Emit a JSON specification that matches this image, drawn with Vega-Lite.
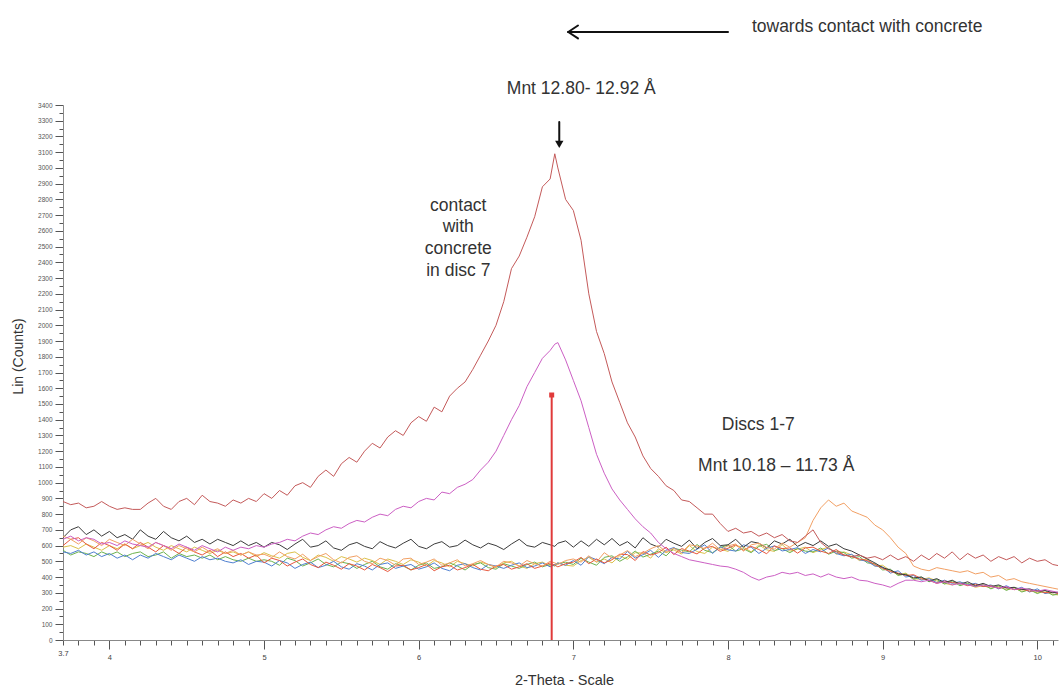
{
  "$schema": "https://vega.github.io/schema/vega-lite/v6.json",
  "autosize": "none",
  "width": 995,
  "height": 535,
  "padding": {"left": 63, "top": 105, "right": 2, "bottom": 49},
  "background": "white",
  "config": {"view": {"stroke": null}, "font": "Liberation Sans"},
  "datasets": {
    "xrd": [
      {"x":3.70,"A":880,"B":640,"C":660,"D":650,"E":560,"F":570,"G":600,"H":590},
      {"x":3.75,"A":860,"B":660,"C":640,"D":700,"E":550,"F":540,"G":640,"H":600},
      {"x":3.80,"A":870,"B":630,"C":610,"D":720,"E":570,"F":560,"G":650,"H":580},
      {"x":3.85,"A":840,"B":650,"C":650,"D":670,"E":540,"F":550,"G":610,"H":610},
      {"x":3.90,"A":850,"B":640,"C":630,"D":700,"E":560,"F":530,"G":580,"H":590},
      {"x":3.95,"A":880,"B":610,"C":600,"D":660,"E":530,"F":560,"G":620,"H":570},
      {"x":4.00,"A":850,"B":620,"C":640,"D":690,"E":550,"F":540,"G":600,"H":600},
      {"x":4.05,"A":830,"B":600,"C":620,"D":650,"E":520,"F":560,"G":570,"H":580},
      {"x":4.10,"A":840,"B":630,"C":600,"D":670,"E":540,"F":530,"G":610,"H":610},
      {"x":4.15,"A":830,"B":610,"C":640,"D":640,"E":510,"F":550,"G":580,"H":580},
      {"x":4.20,"A":830,"B":600,"C":610,"D":700,"E":540,"F":560,"G":620,"H":600},
      {"x":4.25,"A":870,"B":590,"C":580,"D":660,"E":520,"F":530,"G":590,"H":620},
      {"x":4.30,"A":900,"B":620,"C":620,"D":640,"E":550,"F":540,"G":560,"H":590},
      {"x":4.35,"A":850,"B":600,"C":600,"D":690,"E":530,"F":560,"G":600,"H":570},
      {"x":4.40,"A":830,"B":580,"C":570,"D":650,"E":510,"F":520,"G":580,"H":600},
      {"x":4.45,"A":880,"B":610,"C":600,"D":630,"E":540,"F":550,"G":550,"H":580},
      {"x":4.50,"A":900,"B":590,"C":580,"D":660,"E":520,"F":530,"G":590,"H":560},
      {"x":4.55,"A":860,"B":570,"C":560,"D":620,"E":500,"F":540,"G":560,"H":590},
      {"x":4.60,"A":920,"B":600,"C":590,"D":640,"E":530,"F":520,"G":540,"H":570},
      {"x":4.65,"A":880,"B":580,"C":560,"D":610,"E":510,"F":540,"G":570,"H":550},
      {"x":4.70,"A":870,"B":560,"C":580,"D":640,"E":520,"F":510,"G":530,"H":570},
      {"x":4.75,"A":850,"B":590,"C":550,"D":620,"E":500,"F":530,"G":560,"H":550},
      {"x":4.80,"A":890,"B":570,"C":570,"D":600,"E":490,"F":510,"G":530,"H":560},
      {"x":4.85,"A":870,"B":590,"C":540,"D":630,"E":510,"F":500,"G":550,"H":540},
      {"x":4.90,"A":900,"B":580,"C":560,"D":600,"E":480,"F":520,"G":520,"H":560},
      {"x":4.95,"A":880,"B":600,"C":540,"D":620,"E":500,"F":500,"G":540,"H":530},
      {"x":5.00,"A":930,"B":590,"C":545,"D":590,"E":495,"F":510,"G":490,"H":555},
      {"x":5.05,"A":900,"B":610,"C":525,"D":620,"E":470,"F":500,"G":520,"H":535},
      {"x":5.10,"A":950,"B":620,"C":560,"D":605,"E":505,"F":475,"G":505,"H":520},
      {"x":5.15,"A":920,"B":640,"C":530,"D":575,"E":490,"F":520,"G":470,"H":550},
      {"x":5.20,"A":980,"B":630,"C":515,"D":610,"E":455,"F":505,"G":495,"H":560},
      {"x":5.25,"A":1000,"B":660,"C":545,"D":640,"E":480,"F":470,"G":515,"H":525},
      {"x":5.30,"A":970,"B":680,"C":505,"D":590,"E":495,"F":490,"G":480,"H":505},
      {"x":5.35,"A":1040,"B":670,"C":530,"D":600,"E":460,"F":515,"G":460,"H":540},
      {"x":5.40,"A":1080,"B":700,"C":550,"D":630,"E":475,"F":480,"G":495,"H":525},
      {"x":5.45,"A":1040,"B":720,"C":510,"D":585,"E":500,"F":465,"G":475,"H":500},
      {"x":5.50,"A":1120,"B":710,"C":490,"D":570,"E":465,"F":495,"G":450,"H":530},
      {"x":5.55,"A":1160,"B":740,"C":525,"D":605,"E":450,"F":485,"G":485,"H":515},
      {"x":5.60,"A":1130,"B":760,"C":535,"D":620,"E":485,"F":455,"G":470,"H":495},
      {"x":5.65,"A":1200,"B":750,"C":500,"D":595,"E":470,"F":480,"G":445,"H":520},
      {"x":5.70,"A":1250,"B":780,"C":485,"D":580,"E":445,"F":500,"G":480,"H":505},
      {"x":5.75,"A":1220,"B":800,"C":520,"D":625,"E":480,"F":465,"G":460,"H":480},
      {"x":5.80,"A":1290,"B":790,"C":505,"D":600,"E":490,"F":450,"G":435,"H":515},
      {"x":5.85,"A":1330,"B":830,"C":475,"D":585,"E":455,"F":485,"G":470,"H":500},
      {"x":5.90,"A":1300,"B":850,"C":515,"D":615,"E":470,"F":470,"G":475,"H":480},
      {"x":5.95,"A":1380,"B":840,"C":520,"D":640,"E":480,"F":445,"G":445,"H":510},
      {"x":6.00,"A":1420,"B":880,"C":480,"D":595,"E":450,"F":475,"G":460,"H":495},
      {"x":6.05,"A":1390,"B":900,"C":495,"D":580,"E":465,"F":490,"G":480,"H":470},
      {"x":6.10,"A":1480,"B":890,"C":515,"D":610,"E":490,"F":455,"G":440,"H":505},
      {"x":6.15,"A":1450,"B":940,"C":475,"D":625,"E":455,"F":465,"G":465,"H":490},
      {"x":6.20,"A":1550,"B":930,"C":490,"D":590,"E":440,"F":490,"G":475,"H":465},
      {"x":6.25,"A":1600,"B":970,"C":510,"D":600,"E":475,"F":470,"G":445,"H":500},
      {"x":6.30,"A":1640,"B":990,"C":470,"D":635,"E":485,"F":445,"G":460,"H":485},
      {"x":6.35,"A":1720,"B":1020,"C":485,"D":605,"E":460,"F":480,"G":480,"H":470},
      {"x":6.40,"A":1810,"B":1080,"C":505,"D":585,"E":445,"F":490,"G":450,"H":495},
      {"x":6.45,"A":1900,"B":1130,"C":480,"D":615,"E":480,"F":460,"G":440,"H":480},
      {"x":6.50,"A":2000,"B":1200,"C":465,"D":600,"E":470,"F":450,"G":470,"H":460},
      {"x":6.55,"A":2150,"B":1300,"C":500,"D":575,"E":455,"F":485,"G":480,"H":490},
      {"x":6.60,"A":2360,"B":1400,"C":490,"D":610,"E":475,"F":470,"G":450,"H":500},
      {"x":6.65,"A":2440,"B":1490,"C":470,"D":640,"E":490,"F":455,"G":465,"H":470},
      {"x":6.70,"A":2560,"B":1610,"C":505,"D":600,"E":460,"F":480,"G":485,"H":455},
      {"x":6.75,"A":2690,"B":1700,"C":485,"D":590,"E":470,"F":495,"G":455,"H":485},
      {"x":6.80,"A":2880,"B":1790,"C":470,"D":620,"E":490,"F":465,"G":470,"H":495},
      {"x":6.85,"A":2930,"B":1840,"C":500,"D":605,"E":465,"F":480,"G":490,"H":470},
      {"x":6.88,"A":3090,"B":1880,"C":490,"D":595,"E":480,"F":470,"G":475,"H":480},
      {"x":6.90,"A":3000,"B":1890,"C":480,"D":615,"E":490,"F":485,"G":465,"H":490},
      {"x":6.95,"A":2800,"B":1780,"C":505,"D":630,"E":475,"F":495,"G":485,"H":475},
      {"x":7.00,"A":2730,"B":1650,"C":515,"D":590,"E":505,"F":480,"G":495,"H":470},
      {"x":7.05,"A":2540,"B":1520,"C":495,"D":630,"E":475,"F":520,"G":525,"H":505},
      {"x":7.10,"A":2200,"B":1350,"C":535,"D":595,"E":530,"F":495,"G":485,"H":525},
      {"x":7.15,"A":1960,"B":1180,"C":495,"D":640,"E":510,"F":475,"G":515,"H":495},
      {"x":7.20,"A":1820,"B":1060,"C":555,"D":605,"E":485,"F":525,"G":490,"H":515},
      {"x":7.25,"A":1640,"B":960,"C":520,"D":645,"E":525,"F":535,"G":510,"H":490},
      {"x":7.30,"A":1510,"B":890,"C":540,"D":600,"E":515,"F":500,"G":545,"H":535},
      {"x":7.35,"A":1380,"B":830,"C":568,"D":625,"E":563,"F":528,"G":543,"H":513},
      {"x":7.40,"A":1290,"B":770,"C":530,"D":585,"E":520,"F":565,"G":505,"H":555},
      {"x":7.45,"A":1170,"B":720,"C":552,"D":650,"E":542,"F":527,"G":562,"H":552},
      {"x":7.50,"A":1090,"B":680,"C":580,"D":610,"E":570,"F":545,"G":540,"H":520},
      {"x":7.55,"A":1040,"B":620,"C":600,"D":590,"E":525,"F":565,"G":555,"H":580},
      {"x":7.60,"A":980,"B":580,"C":560,"D":640,"E":570,"F":535,"G":590,"H":555},
      {"x":7.65,"A":950,"B":550,"C":583,"D":615,"E":588,"F":583,"G":543,"H":573},
      {"x":7.70,"A":890,"B":530,"C":556,"D":595,"E":556,"F":571,"G":581,"H":546},
      {"x":7.75,"A":880,"B":510,"C":605,"D":635,"E":550,"F":560,"G":565,"H":600},
      {"x":7.80,"A":840,"B":500,"C":597,"D":580,"E":577,"F":607,"G":547,"H":562},
      {"x":7.85,"A":800,"B":490,"C":580,"D":620,"E":605,"F":570,"G":585,"H":550},
      {"x":7.90,"A":800,"B":480,"C":615,"D":645,"E":550,"F":555,"G":595,"H":590},
      {"x":7.95,"A":740,"B":470,"C":573,"D":600,"E":593,"F":588,"G":563,"H":578},
      {"x":8.00,"A":690,"B":465,"C":598,"D":605,"E":573,"F":603,"G":583,"H":563},
      {"x":8.05,"A":710,"B":450,"C":610,"D":640,"E":565,"F":565,"G":605,"H":600},
      {"x":8.10,"A":680,"B":430,"C":565,"D":590,"E":605,"F":580,"G":570,"H":590},
      {"x":8.15,"A":690,"B":400,"C":605,"D":625,"E":590,"F":555,"G":595,"H":560},
      {"x":8.20,"A":660,"B":380,"C":615,"D":615,"E":550,"F":595,"G":575,"H":605},
      {"x":8.25,"A":680,"B":400,"C":588,"D":585,"E":583,"F":608,"G":548,"H":573},
      {"x":8.30,"A":650,"B":410,"C":578,"D":630,"E":598,"F":568,"G":598,"H":563},
      {"x":8.35,"A":670,"B":430,"C":616,"D":610,"E":566,"F":581,"G":581,"H":606},
      {"x":8.40,"A":630,"B":420,"C":590,"D":640,"E":575,"F":555,"G":585,"H":565},
      {"x":8.45,"A":620,"B":430,"C":620,"D":595,"E":587,"F":582,"G":552,"H":577},
      {"x":8.50,"A":660,"B":410,"C":650,"D":620,"E":550,"F":565,"G":585,"H":590},
      {"x":8.55,"A":700,"B":420,"C":760,"D":600,"E":575,"F":560,"G":590,"H":555},
      {"x":8.60,"A":620,"B":400,"C":840,"D":630,"E":560,"F":585,"G":565,"H":575},
      {"x":8.65,"A":580,"B":420,"C":890,"D":595,"E":585,"F":545,"G":550,"H":590},
      {"x":8.70,"A":560,"B":400,"C":850,"D":610,"E":550,"F":565,"G":575,"H":545},
      {"x":8.75,"A":540,"B":390,"C":870,"D":580,"E":535,"F":555,"G":540,"H":560},
      {"x":8.80,"A":530,"B":400,"C":820,"D":565,"E":545,"F":520,"G":530,"H":540},
      {"x":8.85,"A":540,"B":380,"C":800,"D":540,"E":510,"F":530,"G":515,"H":505},
      {"x":8.90,"A":520,"B":375,"C":780,"D":515,"E":500,"F":490,"G":505,"H":515},
      {"x":8.95,"A":530,"B":360,"C":730,"D":490,"E":470,"F":485,"G":480,"H":470},
      {"x":9.00,"A":510,"B":350,"C":700,"D":460,"E":465,"F":445,"G":455,"H":475},
      {"x":9.05,"A":540,"B":335,"C":650,"D":445,"E":425,"F":450,"G":435,"H":440},
      {"x":9.10,"A":510,"B":360,"C":590,"D":420,"E":440,"F":410,"G":425,"H":415},
      {"x":9.15,"A":530,"B":380,"C":550,"D":415,"E":400,"F":420,"G":410,"H":425},
      {"x":9.20,"A":500,"B":380,"C":470,"D":395,"E":410,"F":385,"G":415,"H":390},
      {"x":9.25,"A":540,"B":370,"C":450,"D":400,"E":380,"F":400,"G":390,"H":385},
      {"x":9.30,"A":510,"B":380,"C":440,"D":375,"E":390,"F":370,"G":380,"H":395},
      {"x":9.35,"A":550,"B":360,"C":460,"D":390,"E":365,"F":385,"G":360,"H":375},
      {"x":9.40,"A":520,"B":370,"C":450,"D":365,"E":380,"F":355,"G":375,"H":360},
      {"x":9.45,"A":560,"B":350,"C":440,"D":380,"E":360,"F":375,"G":365,"H":350},
      {"x":9.50,"A":510,"B":360,"C":430,"D":355,"E":370,"F":345,"G":360,"H":365},
      {"x":9.55,"A":550,"B":350,"C":440,"D":370,"E":350,"F":360,"G":345,"H":355},
      {"x":9.60,"A":520,"B":340,"C":420,"D":345,"E":360,"F":340,"G":355,"H":335},
      {"x":9.65,"A":540,"B":350,"C":430,"D":360,"E":340,"F":355,"G":340,"H":345},
      {"x":9.70,"A":500,"B":340,"C":400,"D":340,"E":350,"F":325,"G":345,"H":330},
      {"x":9.75,"A":530,"B":330,"C":410,"D":350,"E":325,"F":345,"G":330,"H":340},
      {"x":9.80,"A":510,"B":340,"C":380,"D":330,"E":345,"F":315,"G":335,"H":320},
      {"x":9.85,"A":530,"B":320,"C":390,"D":335,"E":320,"F":335,"G":320,"H":330},
      {"x":9.90,"A":490,"B":330,"C":370,"D":320,"E":335,"F":305,"G":325,"H":310},
      {"x":9.95,"A":520,"B":320,"C":360,"D":325,"E":305,"F":320,"G":310,"H":320},
      {"x":10.00,"A":500,"B":310,"C":350,"D":310,"E":325,"F":295,"G":315,"H":300},
      {"x":10.05,"A":510,"B":320,"C":340,"D":315,"E":295,"F":315,"G":300,"H":305},
      {"x":10.10,"A":480,"B":310,"C":330,"D":300,"E":305,"F":285,"G":305,"H":290},
      {"x":10.15,"A":470,"B":300,"C":320,"D":305,"E":290,"F":295,"G":290,"H":285}
    ],
    "stick": [{"x": 6.86, "y": 0, "top": 1557}],
    "arrows": [
      {"x": 6.967, "y": 3864, "x2": 8.0, "y2": 3864},
      {"x": 6.967, "y": 3864, "x2": 7.03, "y2": 3905},
      {"x": 6.967, "y": 3864, "x2": 7.03, "y2": 3823},
      {"x": 6.909, "y": 3292, "x2": 6.909, "y2": 3165}
    ],
    "heads": [{"x": 6.909, "y": 3150}],
    "notes": [
      {"x": 8.9, "y": 3896, "label": "towards contact with concrete"},
      {"x": 7.051, "y": 3502, "label": "Mnt 12.80- 12.92 Å"},
      {"x": 6.256, "y": 2761, "label": "contact\nwith\nconcrete\nin disc 7"},
      {"x": 8.196, "y": 1366, "label": "Discs 1-7"},
      {"x": 8.312, "y": 1106, "label": "Mnt 10.18 – 11.73 Å"}
    ]
  },
  "encoding": {
    "x": {
      "field": "x", "type": "quantitative",
      "scale": {"domain": [3.7, 10.134], "nice": false, "zero": false},
      "axis": {
        "title": "2-Theta - Scale",
        "titleFontSize": 14.5, "titleFontWeight": "normal", "titleColor": "#333333",
        "titleX": 501, "titleY": 40, "titleBaseline": "middle",
        "values": [3.7,3.8,3.9,4.0,4.1,4.2,4.3,4.4,4.5,4.6,4.7,4.8,4.9,5.0,5.1,5.2,5.3,5.4,5.5,5.6,5.7,5.8,5.9,6.0,6.1,6.2,6.3,6.4,6.5,6.6,6.7,6.8,6.9,7.0,7.1,7.2,7.3,7.4,7.5,7.6,7.7,7.8,7.9,8.0,8.1,8.2,8.3,8.4,8.5,8.6,8.7,8.8,8.9,9.0,9.1,9.2,9.3,9.4,9.5,9.6,9.7,9.8,9.9,10.0,10.1],
        "labelExpr": "abs(datum.value - round(datum.value)) < 0.001 || abs(datum.value - 3.7) < 0.001 ? format(datum.value, '~g') : ''",
        "labelFontSize": 7.5, "labelColor": "#444444", "labelPadding": 4,
        "labelOverlap": false, "labelFlush": false,
        "tickSize": {"condition": {"test": "abs(datum.value - round(datum.value)) < 0.001", "value": 9}, "value": 5},
        "tickColor": "#555555", "tickWidth": 1,
        "domainColor": "#888888", "grid": false
      }
    },
    "y": {
      "field": "y", "type": "quantitative",
      "scale": {"domain": [0, 3400], "nice": false},
      "axis": {
        "title": "Lin (Counts)",
        "titleFontSize": 14, "titleFontWeight": "normal", "titleColor": "#333333",
        "titleX": -45, "titleY": 251, "titleAngle": 270, "titleBaseline": "middle", "titleAlign": "center",
        "values": [0,50,100,150,200,250,300,350,400,450,500,550,600,650,700,750,800,850,900,950,1000,1050,1100,1150,1200,1250,1300,1350,1400,1450,1500,1550,1600,1650,1700,1750,1800,1850,1900,1950,2000,2050,2100,2150,2200,2250,2300,2350,2400,2450,2500,2550,2600,2650,2700,2750,2800,2850,2900,2950,3000,3050,3100,3150,3200,3250,3300,3350,3400],
        "labelExpr": "datum.value % 100 === 0 ? datum.label : ''",
        "format": "d",
        "labelFontSize": 6.5, "labelColor": "#555555", "labelPadding": 3,
        "labelOverlap": false, "labelFlush": false,
        "tickSize": {"condition": {"test": "datum.value % 100 === 0", "value": 8}, "value": 4},
        "tickColor": "#555555", "tickWidth": 1,
        "domainColor": "#888888", "grid": false
      }
    }
  },
  "layer": [
    {
      "data": {"name": "xrd"},
      "transform": [{"fold": ["H", "F", "E", "G", "D", "C", "B", "A"], "as": ["series", "y"]}],
      "mark": {"type": "line", "strokeWidth": 1, "clip": true},
      "encoding": {
        "color": {
          "field": "series", "type": "nominal", "legend": null,
          "scale": {
            "domain": ["A", "B", "C", "D", "E", "F", "G", "H"],
            "range": ["#c45a5a", "#cc5fc4", "#f2a064", "#3c3c3c", "#4f7fd0", "#6cb24e", "#e8583e", "#dcc04a"]
          }
        }
      }
    },
    {
      "data": {"name": "stick"},
      "mark": {"type": "rule", "color": "#e03a3a", "strokeWidth": 2},
      "encoding": {"y2": {"field": "top"}}
    },
    {
      "data": {"name": "stick"},
      "mark": {"type": "square", "color": "#e03a3a", "filled": true, "size": 25, "opacity": 1},
      "encoding": {"y": {"field": "top", "type": "quantitative"}}
    },
    {
      "data": {"name": "arrows"},
      "mark": {"type": "rule", "color": "#111111", "strokeWidth": 2, "strokeCap": "round"},
      "encoding": {"x2": {"field": "x2"}, "y2": {"field": "y2"}}
    },
    {
      "data": {"name": "heads"},
      "mark": {"type": "point", "shape": "triangle-down", "filled": true, "color": "#111111", "size": 70, "opacity": 1},
      "encoding": {}
    },
    {
      "data": {"name": "notes"},
      "mark": {"type": "text", "fontSize": 17.5, "color": "#333333", "baseline": "middle", "align": "center", "lineBreak": "\n", "lineHeight": 21.7},
      "encoding": {"text": {"field": "label"}}
    }
  ]
}
